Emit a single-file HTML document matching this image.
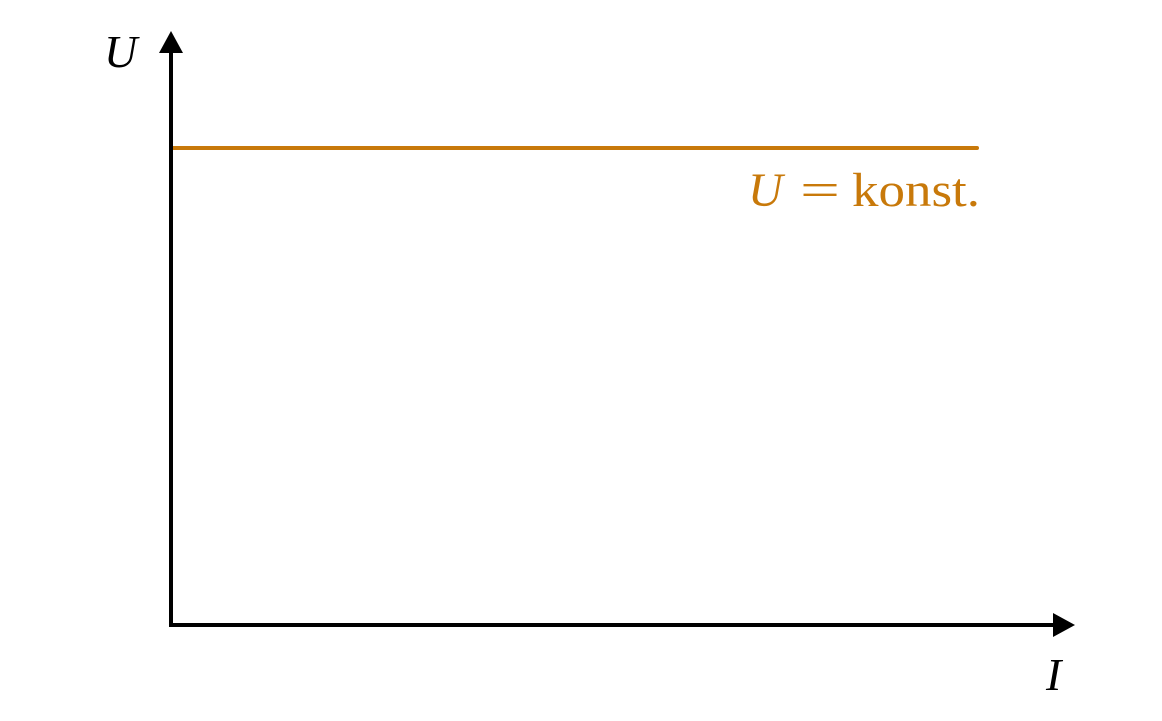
<!DOCTYPE html>
<html><head><meta charset="utf-8"><style>
html,body{margin:0;padding:0;background:#fff;}
svg{display:block;}
</style></head><body>
<svg width="1162" height="721" viewBox="0 0 1162 721" xmlns="http://www.w3.org/2000/svg">
<script>
const currentValues=[0,1];
const voltageValues=[0.8,0.8];
</script>
<g id="plot"></g>
<line x1="171" y1="627" x2="171" y2="50" stroke="#000" stroke-width="4"/>
<polygon points="159,53 183,53 171,31" fill="#000"/>
<line x1="169" y1="625" x2="1055" y2="625" stroke="#000" stroke-width="4"/>
<polygon points="1053,613 1053,637 1075,625" fill="#000"/>
<text x="104" y="67" font-family="Liberation Serif, serif" font-style="italic" font-size="46" fill="#000">U</text>
<text x="1046" y="690" font-family="Liberation Serif, serif" font-style="italic" font-size="46" fill="#000">I</text>
<text y="206" font-family="Liberation Serif, serif" font-size="48" fill="#c8790a"><tspan x="748" font-style="italic">U</tspan><tspan x="800" textLength="40" lengthAdjust="spacingAndGlyphs">=</tspan><tspan x="852" textLength="128" lengthAdjust="spacingAndGlyphs">konst.</tspan></text>
<script>
(function(){
const x0=171,x1=977,y0=625,y1=28.75;
const xs=v=>x0+v*(x1-x0);
const ys=v=>y0-v*(y0-y1);
const g=document.getElementById('plot');
const pts=currentValues.map((c,i)=>xs(c)+','+ys(voltageValues[i])).join(' ');
const pl=document.createElementNS('http://www.w3.org/2000/svg','polyline');
pl.setAttribute('points',pts);
pl.setAttribute('fill','none');
pl.setAttribute('stroke','#c8790a');
pl.setAttribute('stroke-width','4');
pl.setAttribute('stroke-linecap','round');


g.appendChild(pl);
})();
</script>
</svg>
</body></html>
